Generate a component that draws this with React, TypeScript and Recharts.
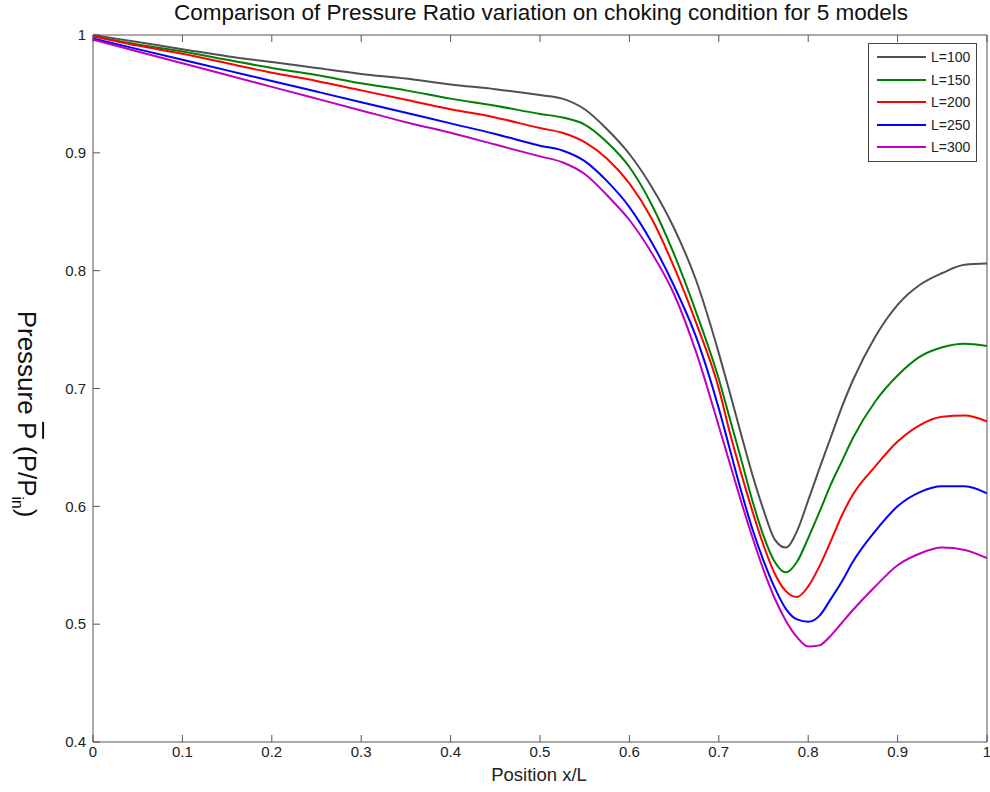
import { Legend, Line, LineChart, XAxis, YAxis } from "recharts";

// position along the channel (x/L)
const positions = [
  0, 0.05, 0.1, 0.15, 0.2, 0.25, 0.3, 0.35, 0.4, 0.45, 0.5, 0.525, 0.55, 0.575, 0.6, 0.625, 0.65, 0.675, 0.7,
  0.7125, 0.725, 0.7375, 0.75, 0.7625, 0.775, 0.7875, 0.8, 0.8125, 0.825, 0.8375, 0.85, 0.875, 0.9, 0.925, 0.95,
  0.975, 1,
];

// pressure ratio P/Pin for each model length
const pressureL100 = [
  1.0, 0.994, 0.988, 0.982, 0.977, 0.972, 0.967, 0.963, 0.958, 0.954, 0.949, 0.946, 0.937, 0.92, 0.899, 0.871, 0.836,
  0.791, 0.73, 0.696, 0.661, 0.627, 0.597, 0.572, 0.565, 0.579, 0.605, 0.632, 0.658, 0.684, 0.707, 0.744, 0.771,
  0.788, 0.798, 0.805, 0.806,
];
const pressureL150 = [
  0.999, 0.992, 0.986, 0.979, 0.972, 0.966, 0.959, 0.953, 0.946, 0.94, 0.933, 0.93, 0.924, 0.909, 0.888, 0.856, 0.814,
  0.764, 0.708, 0.674, 0.64, 0.605, 0.575, 0.553, 0.544, 0.553, 0.573, 0.595, 0.618, 0.638, 0.658, 0.689, 0.711, 0.727,
  0.735, 0.738, 0.736,
];
const pressureL200 = [
  0.999, 0.991, 0.984, 0.976, 0.968, 0.961, 0.953, 0.945, 0.937, 0.93, 0.921, 0.917, 0.909, 0.895, 0.874, 0.844, 0.803,
  0.755, 0.7, 0.662, 0.628, 0.596, 0.567, 0.543, 0.528, 0.523, 0.532, 0.549, 0.57, 0.592, 0.61, 0.634, 0.655, 0.669,
  0.676, 0.677, 0.672,
];
const pressureL250 = [
  0.997, 0.988, 0.979, 0.97, 0.961, 0.952, 0.943, 0.934, 0.925, 0.916, 0.906, 0.902, 0.893, 0.876, 0.854, 0.824, 0.787,
  0.743, 0.683, 0.648, 0.613, 0.581, 0.554, 0.531, 0.513, 0.504, 0.502, 0.507, 0.521, 0.536, 0.553, 0.579, 0.6, 0.612,
  0.617, 0.617, 0.611,
];
const pressureL300 = [
  0.996, 0.986, 0.976, 0.966, 0.956, 0.946, 0.936, 0.926, 0.917, 0.907, 0.897, 0.892, 0.882, 0.864, 0.843, 0.815, 0.78,
  0.73, 0.668, 0.636, 0.604, 0.574, 0.546, 0.522, 0.503, 0.489, 0.481, 0.482, 0.49, 0.501, 0.512, 0.532, 0.55, 0.56,
  0.565, 0.563, 0.556,
];

const xTicks = [0, 0.1, 0.2, 0.3, 0.4, 0.5, 0.6, 0.7, 0.8, 0.9, 1];
const yTicks = [0.4, 0.5, 0.6, 0.7, 0.8, 0.9, 1];

const series = [
  { key: "l100", name: "L=100", color: "#505050", values: pressureL100 },
  { key: "l150", name: "L=150", color: "#008000", values: pressureL150 },
  { key: "l200", name: "L=200", color: "#ff0000", values: pressureL200 },
  { key: "l250", name: "L=250", color: "#0000ff", values: pressureL250 },
  { key: "l300", name: "L=300", color: "#bf00bf", values: pressureL300 },
];

const chartData = positions.map((x, i) => {
  const row: Record<string, number> = { x };
  series.forEach((s) => {
    row[s.key] = s.values[i];
  });
  return row;
});

const FONT = '"Liberation Sans", Arial, Helvetica, sans-serif';
const AXIS = "#555";
const TICK_TEXT = { fontSize: 15, fill: "#222", fontFamily: FONT };

function renderLegend(props: any) {
  const payload = props.payload || [];
  return (
    <div
      style={{
        border: "1px solid #444",
        background: "#fff",
        padding: "2px 6px 2px 8px",
        fontFamily: FONT,
        fontSize: 14,
        color: "#222",
      }}
    >
      {payload.map((entry: any) => (
        <div key={entry.value} style={{ display: "flex", alignItems: "center", height: 22.5 }}>
          <span style={{ display: "inline-block", width: 49, height: 2, background: entry.color, marginRight: 5 }} />
          <span>{entry.value}</span>
        </div>
      ))}
    </div>
  );
}

export default function App() {
  return (
    <div style={{ position: "absolute", left: 0, top: 0, width: 990, height: 792, background: "#fff" }}>
      <LineChart width={990} height={792} data={chartData} margin={{ top: 34, right: 2, bottom: 20, left: 53 }}>
        <XAxis
          dataKey="x"
          type="number"
          domain={[0, 1]}
          ticks={xTicks}
          interval={0}
          height={30}
          stroke={AXIS}
          tickSize={-7}
          tickMargin={11}
          tick={TICK_TEXT}
        />
        <XAxis
          xAxisId="top"
          orientation="top"
          dataKey="x"
          type="number"
          domain={[0, 1]}
          ticks={xTicks}
          interval={0}
          height={1}
          stroke={AXIS}
          tickSize={-7}
          tick={() => null}
        />
        <YAxis
          type="number"
          domain={[0.4, 1]}
          ticks={yTicks}
          interval={0}
          width={40}
          stroke={AXIS}
          tickSize={-7}
          tickMargin={14}
          tick={TICK_TEXT}
        />
        <YAxis
          yAxisId="right"
          orientation="right"
          type="number"
          domain={[0.4, 1]}
          ticks={yTicks}
          interval={0}
          width={1}
          stroke={AXIS}
          tickSize={-7}
          tick={() => null}
        />
        <Legend
          layout="vertical"
          align="center"
          verticalAlign="middle"
          content={renderLegend}
          wrapperStyle={{ top: 43, left: 868, width: "auto" }}
        />
        {series.map((s) => (
          <Line
            key={s.key}
            type="monotone"
            dataKey={s.key}
            name={s.name}
            stroke={s.color}
            strokeWidth={2}
            dot={false}
            activeDot={false}
            isAnimationActive={false}
          />
        ))}
      </LineChart>

      <div
        style={{
          position: "absolute",
          left: 0,
          width: 1082,
          top: 0,
          textAlign: "center",
          fontFamily: FONT,
          fontSize: 22.5,
          color: "#111",
        }}
      >
        Comparison of Pressure Ratio variation on choking condition for 5 models
      </div>

      <div
        style={{
          position: "absolute",
          left: 0,
          width: 1078,
          top: 764,
          textAlign: "center",
          fontFamily: FONT,
          fontSize: 18.5,
          color: "#222",
        }}
      >
        Position x/L
      </div>

      <div
        style={{
          position: "absolute",
          left: 22,
          top: 414,
          transform: "translate(-50%, -50%) rotate(90deg)",
          whiteSpace: "nowrap",
          fontFamily: FONT,
          fontSize: 26,
          color: "#111",
          lineHeight: "30px",
        }}
      >
        Pressure <span style={{ textDecoration: "overline" }}>P</span> (P/P
        <sub style={{ fontSize: "0.6em" }}>in</sub>)
      </div>
    </div>
  );
}
